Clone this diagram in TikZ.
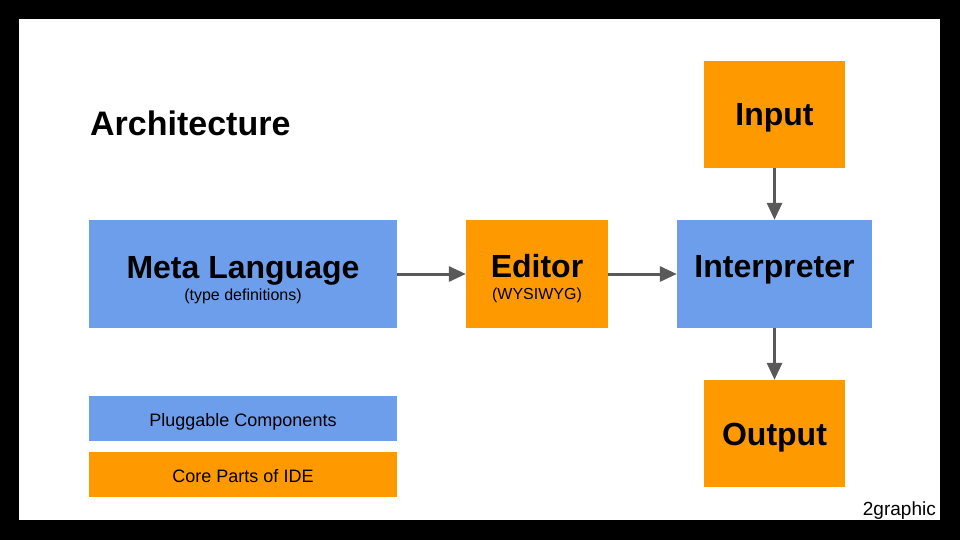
\documentclass[tikz,border=0pt]{standalone}
\usepackage{fontspec}
\setmainfont{Liberation Sans}
\usetikzlibrary{arrows.meta}
\definecolor{boxblue}{HTML}{6D9EEB}
\definecolor{boxorange}{HTML}{FF9900}
\definecolor{arrowgray}{HTML}{595959}
\tikzset{
  bluebox/.style={fill=boxblue, draw=none, inner sep=0pt, rectangle},
  orangebox/.style={fill=boxorange, draw=none, inner sep=0pt, rectangle},
  titletext/.style={anchor=base, inner sep=0pt, font=\fontsize{32}{36}\selectfont\bfseries},
  subtext/.style={anchor=base, inner sep=0pt, font=\fontsize{16}{18}\selectfont},
  legendtext/.style={anchor=base, inner sep=0pt, font=\fontsize{18}{20}\selectfont},
  conn/.style={draw=arrowgray, line width=3pt, -{Triangle[length=17pt, width=15pt]}}
}
\begin{document}
\begin{tikzpicture}[x=1pt,y=-1pt]
\useasboundingbox (0,0) rectangle (960,540);
\fill[black] (0,0) rectangle (960,540);
\fill[white] (19,19) rectangle (940,520);

% boxes
\node[bluebox, minimum width=308pt, minimum height=108pt] (meta) at (243,274) {};
\node[orangebox, minimum width=142pt, minimum height=108pt] (editor) at (537,274) {};
\node[bluebox, minimum width=195pt, minimum height=108pt] (interp) at (774.5,274) {};
\node[orangebox, minimum width=141pt, minimum height=107pt] (input) at (774.5,114.5) {};
\node[orangebox, minimum width=141pt, minimum height=107pt] (output) at (774.5,433.5) {};
\node[bluebox, minimum width=308pt, minimum height=45pt] (legblue) at (243,418.5) {};
\node[orangebox, minimum width=308pt, minimum height=45pt] (legorange) at (243,474.5) {};

% texts
\node[anchor=base west, inner sep=0pt, font=\fontsize{34}{38}\selectfont\bfseries] (arch) at (90,136) {Architecture};
\node[titletext] (metat) at (243,278) {Meta Language};
\node[subtext] (metas) at (243,300) {(type definitions)};
\node[titletext] (editort) at (537,277) {Editor};
\node[subtext] (editors) at (537,299) {(WYSIWYG)};
\node[titletext] (interpt) at (774.5,277) {Interpreter};
\node[titletext] (inputt) at (774.5,126) {Input};
\node[titletext] (outputt) at (774.5,445) {Output};
\node[legendtext] (legbluet) at (243,426) {Pluggable Components};
\node[legendtext] (legoranget) at (243,482) {Core Parts of IDE};
\node[anchor=base east, inner sep=0pt, font=\fontsize{19}{21}\selectfont] (brand) at (936,515) {2graphic};

% connectors
\draw[conn] (meta.east) -- (editor.west);
\draw[conn] (editor.east) -- (interp.west);
\draw[conn] (input.south) -- (interp.north);
\draw[conn] (interp.south) -- (output.north);
\end{tikzpicture}
\end{document}
